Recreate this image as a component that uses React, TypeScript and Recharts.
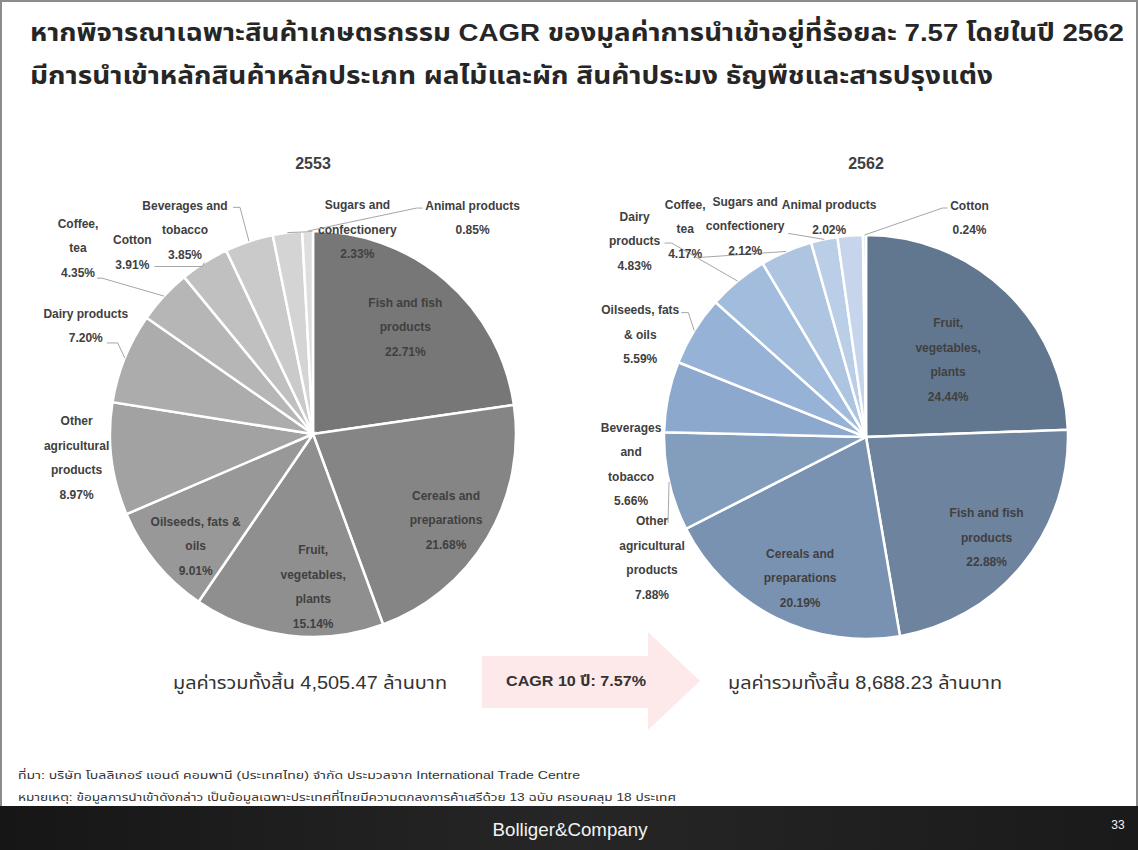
import React from 'react';
import { PieChart, Pie, Cell } from 'recharts';

if (typeof document !== 'undefined') {
  document.body.style.margin = '0';
}

// ---------- DATA ----------
const years = ['2553', '2562'];
const categories2553 = [
  'Fish and fish products', 'Cereals and preparations', 'Fruit, vegetables, plants',
  'Oilseeds, fats & oils', 'Other agricultural products', 'Dairy products', 'Coffee, tea',
  'Cotton', 'Beverages and tobacco', 'Sugars and confectionery', 'Animal products',
];
const values2553 = [22.71, 21.68, 15.14, 9.01, 8.97, 7.2, 4.35, 3.91, 3.85, 2.33, 0.85];
const labelLines2553 = [
  ['Fish and fish', 'products'], ['Cereals and', 'preparations'], ['Fruit,', 'vegetables,', 'plants'],
  ['Oilseeds, fats &', 'oils'], ['Other', 'agricultural', 'products'], ['Dairy products'], ['Coffee,', 'tea'],
  ['Cotton'], ['Beverages and', 'tobacco'], ['Sugars and', 'confectionery'], ['Animal products'],
];

const categories2562 = [
  'Fruit, vegetables, plants', 'Fish and fish products', 'Cereals and preparations',
  'Other agricultural products', 'Beverages and tobacco', 'Oilseeds, fats & oils', 'Dairy products',
  'Coffee, tea', 'Sugars and confectionery', 'Animal products', 'Cotton',
];
const values2562 = [24.44, 22.88, 20.19, 7.88, 5.66, 5.59, 4.83, 4.17, 2.12, 2.02, 0.24];
const labelLines2562 = [
  ['Fruit,', 'vegetables,', 'plants'], ['Fish and fish', 'products'], ['Cereals and', 'preparations'],
  ['Other', 'agricultural', 'products'], ['Beverages', 'and', 'tobacco'], ['Oilseeds, fats', '& oils'],
  ['Dairy', 'products'], ['Coffee,', 'tea'], ['Sugars and', 'confectionery'], ['Animal products'], ['Cotton'],
];

const totals = [4505.47, 8688.23];
const cagr = 7.57;

const titleLines = [
  'หากพิจารณาเฉพาะสินค้าเกษตรกรรม CAGR ของมูลค่าการนำเข้าอยู่ที่ร้อยละ 7.57 โดยในปี 2562',
  'มีการนำเข้าหลักสินค้าหลักประเภท ผลไม้และผัก สินค้าประมง ธัญพืชและสารปรุงแต่ง',
];
const sourceNote = 'ที่มา: บริษัท โบลลิเกอร์ แอนด์ คอมพานี (ประเทศไทย) จำกัด ประมวลจาก International Trade Centre';
const remarkNote = 'หมายเหตุ: ข้อมูลการนำเข้าดังกล่าว เป็นข้อมูลเฉพาะประเทศที่ไทยมีความตกลงการค้าเสรีด้วย 13 ฉบับ ครอบคลุม 18 ประเทศ';

// ---------- STYLE ----------
const colors2553 = ['#777777', '#858585', '#8f8f8f', '#989898', '#a2a2a2', '#acacac', '#b6b6b6', '#c0c0c0', '#cacaca', '#d4d4d4', '#dedede'];
const colors2562 = ['#61778f', '#6d839e', '#7a92b1', '#839dbd', '#8ca8cc', '#96b2d7', '#a2bcdd', '#aec5e2', '#bacee7', '#c6d5eb', '#d2deee'];

type LabelLayout = { r: number; dx: number; dy: number; leader?: [number, number][] };
const layout2553: LabelLayout[] = [
  { r: 0.695, dx: 0, dy: 0 },
  { r: 0.78, dx: -3, dy: 5 },
  { r: 0.754, dx: 19, dy: 1 },
  { r: 0.8, dx: 8, dy: 9 },
  { r: 1, dx: -35, dy: -1 },
  { r: 1, dx: -39, dy: -32, leader: [[-7, -15], [-18, -15]] },
  { r: 1, dx: -86, dy: -48, leader: [[-62, -18], [-67, -18]] },
  { r: 1, dx: -72, dy: -10, leader: [[-2, 4], [-50, 4]] },
  { r: 1, dx: -64, dy: -11, leader: [[-9, -34], [-16, -34]] },
  { r: 1, dx: 70, dy: -3, leader: [[25, -1]] },
  { r: 1, dx: 165, dy: -13, leader: [[109, -23], [115, -23]] },
];
const layout2562: LabelLayout[] = [
  { r: 0.557, dx: 4, dy: 4 },
  { r: 0.776, dx: -1, dy: 2 },
  { r: 0.771, dx: 4, dy: 2 },
  { r: 1, dx: -17, dy: 76, leader: [[-1, 41]] },
  { r: 1, dx: -37, dy: 68 },
  { r: 1, dx: -54, dy: 4, leader: [[-6, -18], [-13, -18]] },
  { r: 1, dx: -103, dy: -40, leader: [[-66, -38], [-73, -38]] },
  { r: 1, dx: -101, dy: -22, leader: [[-86, 6]] },
  { r: 1, dx: -79, dy: -13, leader: [[-36, -6]] },
  { r: 1, dx: -21, dy: -18 },
  { r: 1, dx: 105, dy: -17, leader: [[78, -27], [83, -27]] },
];

const LINE = 24.5;
const LABEL_FONT = '"Liberation Sans", Arial, sans-serif';
const THAI_FONT = '"Liberation Sans", "Noto Sans Thai", Tahoma, "DejaVu Sans", sans-serif';

const makeLabel = (lines: string[][], values: number[], layout: LabelLayout[]) => (props: any) => {
  const { cx, cy, midAngle, outerRadius, index } = props;
  const L = layout[index];
  const rad = (-midAngle * Math.PI) / 180;
  const ax = cx + outerRadius * L.r * Math.cos(rad);
  const ay = cy + outerRadius * L.r * Math.sin(rad);
  const bx = ax + L.dx;
  const by = ay + L.dy;
  const textLines = [...lines[index], values[index].toFixed(2) + '%'];
  const n = textLines.length;
  const pts = L.leader
    ? [[ax, ay], ...L.leader.map(([x, y]) => [ax + x, ay + y])].map((p) => p.join(',')).join(' ')
    : null;
  return (
    <g key={`lbl-${index}`}>
      {pts && <polyline points={pts} fill="none" stroke="#a6a6a6" strokeWidth={1} />}
      <text
        textAnchor="middle"
        fontFamily={LABEL_FONT}
        fontWeight="bold"
        fontSize={12}
        fill="#404040"
      >
        {textLines.map((t, i) => (
          <tspan key={i} x={bx} y={by + (i - (n - 1) / 2) * LINE + 4}>
            {t}
          </tspan>
        ))}
      </text>
    </g>
  );
};

const data2553 = categories2553.map((name, i) => ({ name, value: values2553[i] }));
const data2562 = categories2562.map((name, i) => ({ name, value: values2562[i] }));

const fmt = (v: number) => v.toLocaleString('en-US', { minimumFractionDigits: 2, maximumFractionDigits: 2 });

export default function App() {
  return (
    <div style={{ position: 'relative', width: 1138, height: 850, background: '#fff', overflow: 'hidden' }}>
      <svg width={1138} height={850} style={{ position: 'absolute', left: 0, top: 0 }}>
        <defs>
          <linearGradient id="footerGrad" x1="0" y1="0" x2="1" y2="0">
            <stop offset="0" stopColor="#161616" />
            <stop offset="0.5" stopColor="#262626" />
            <stop offset="1" stopColor="#1a1a1a" />
          </linearGradient>
        </defs>
        <rect x={1} y={1} width={1136} height={806} fill="#fff" stroke="#8c8c8c" strokeWidth={2} />
        {titleLines.map((t, i) => (
          <text
            key={i}
            x={30}
            y={41 + i * 43}
            fontFamily={THAI_FONT}
            fontWeight="bold"
            fontSize={24}
            fill="#262626"
            textLength={i === 0 ? 1094 : 963}
            lengthAdjust="spacingAndGlyphs"
          >
            {t}
          </text>
        ))}
        <text x={313} y={169} textAnchor="middle" fontFamily={LABEL_FONT} fontWeight="bold" fontSize={16} fill="#404040">
          {years[0]}
        </text>
        <text x={866} y={169} textAnchor="middle" fontFamily={LABEL_FONT} fontWeight="bold" fontSize={16} fill="#404040">
          {years[1]}
        </text>
        <polygon points="482,656 648,656 648,632 700,681 648,730 648,708 482,708" fill="#fde9e9" />
        <text x={576} y={686} textAnchor="middle" fontFamily={THAI_FONT} fontWeight="bold" fontSize={15} fill="#333" textLength={140} lengthAdjust="spacingAndGlyphs">
          {`CAGR 10 ปี: ${cagr.toFixed(2)}%`}
        </text>
        <text x={310} y={689} textAnchor="middle" fontFamily={THAI_FONT} fontSize={18} fill="#333" textLength={274} lengthAdjust="spacingAndGlyphs">
          {`มูลค่ารวมทั้งสิ้น ${fmt(totals[0])} ล้านบาท`}
        </text>
        <text x={865} y={689} textAnchor="middle" fontFamily={THAI_FONT} fontSize={18} fill="#333" textLength={274} lengthAdjust="spacingAndGlyphs">
          {`มูลค่ารวมทั้งสิ้น ${fmt(totals[1])} ล้านบาท`}
        </text>
        <text x={18} y={779} fontFamily={THAI_FONT} fontSize={11} fill="#333" textLength={562} lengthAdjust="spacingAndGlyphs">
          {sourceNote}
        </text>
        <text x={18} y={801} fontFamily={THAI_FONT} fontSize={11} fill="#333" textLength={658} lengthAdjust="spacingAndGlyphs">
          {remarkNote}
        </text>
        <rect x={0} y={806} width={1138} height={44} fill="url(#footerGrad)" />
        <text x={570} y={836} textAnchor="middle" fontFamily={LABEL_FONT} fontSize={19} fill="#f2f2f2" textLength={155} lengthAdjust="spacingAndGlyphs">
          Bolliger&amp;Company
        </text>
        <text x={1118} y={829} textAnchor="middle" fontFamily={LABEL_FONT} fontSize={12} fill="#f2f2f2">
          33
        </text>
      </svg>
      <div style={{ position: 'absolute', left: 0, top: 0 }}>
        <PieChart width={1138} height={850} margin={{ top: 0, right: 0, bottom: 0, left: 0 }}>
          <Pie
            data={data2553}
            dataKey="value"
            nameKey="name"
            cx={313}
            cy={434}
            innerRadius={0}
            outerRadius={203}
            startAngle={90}
            endAngle={-270}
            stroke="#ffffff"
            strokeWidth={2.5}
            isAnimationActive={false}
            labelLine={false}
            label={makeLabel(labelLines2553, values2553, layout2553)}
          >
            {data2553.map((d, i) => (
              <Cell key={d.name} fill={colors2553[i]} />
            ))}
          </Pie>
          <Pie
            data={data2562}
            dataKey="value"
            nameKey="name"
            cx={866}
            cy={437}
            innerRadius={0}
            outerRadius={202}
            startAngle={90}
            endAngle={-270}
            stroke="#ffffff"
            strokeWidth={2.5}
            isAnimationActive={false}
            labelLine={false}
            label={makeLabel(labelLines2562, values2562, layout2562)}
          >
            {data2562.map((d, i) => (
              <Cell key={d.name} fill={colors2562[i]} />
            ))}
          </Pie>
        </PieChart>
      </div>
    </div>
  );
}
